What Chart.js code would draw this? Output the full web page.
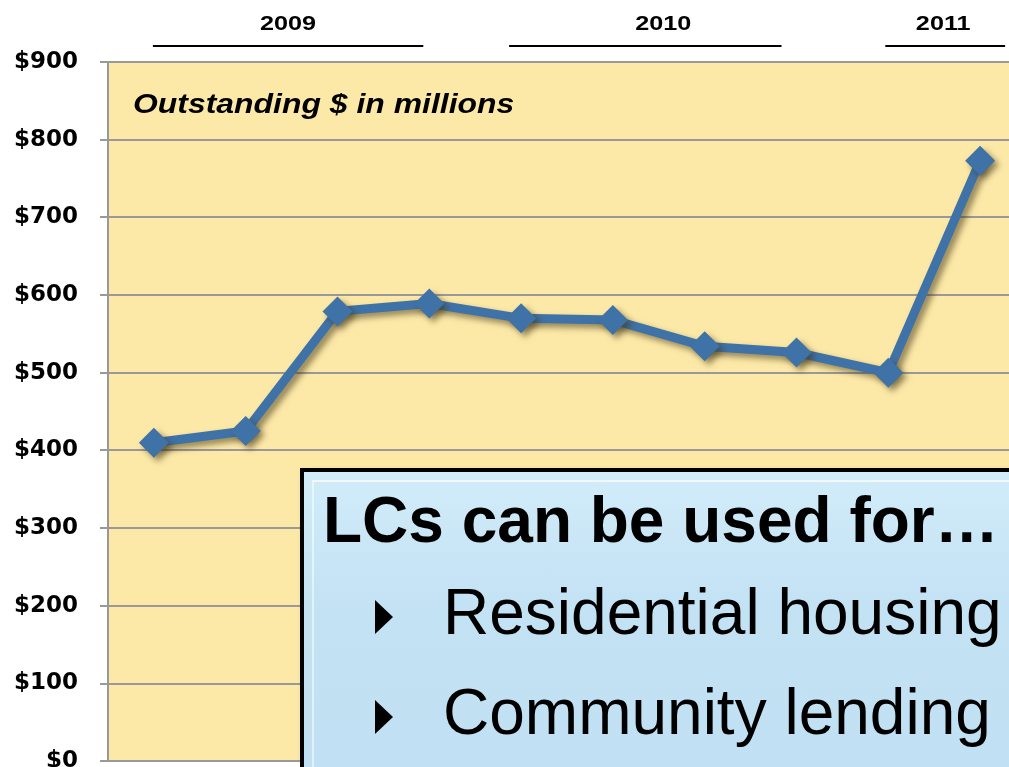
<!DOCTYPE html>
<html>
<head>
<meta charset="utf-8">
<script src="https://cdn.jsdelivr.net/npm/chart.js@4.4.1/dist/chart.umd.min.js"></script>
<style>
  html, body { margin: 0; padding: 0; background: #fff; overflow: hidden; }
  #wrap { position: relative; width: 1009px; height: 767px; overflow: hidden; }
  #holder { position: absolute; left: 0; top: 0; width: 1041px; height: 797px; }
  .box {
    position: absolute; left: 300px; top: 468px; width: 760px; height: 340px;
    border: 4px solid #000; box-sizing: border-box;
    background: linear-gradient(#d2ecf9, #c3e2f4 40%, #c0e0f3);
    box-shadow: 4px 4px 6px rgba(0,0,0,0.35);
    font-family: "Liberation Sans", Arial, sans-serif; color: #000;
  }
  .box .inner {
    position: absolute; left: 8px; top: 8px; right: 0; bottom: 0;
    border-left: 2px solid rgba(255,255,255,0.55); border-top: 2px solid rgba(255,255,255,0.7);
  }
  .box h1 { position: absolute; left: 19px; top: 12px; margin: 0; font-size: 64px; line-height: 1.15; font-weight: bold; white-space: nowrap; }
  .box .item { position: absolute; left: 139px; font-size: 64px; line-height: 1.15; white-space: nowrap; }
  .box .item::before {
    content: ""; position: absolute; left: -68px; top: 24px;
    border-left: 18px solid #000; border-top: 17px solid transparent; border-bottom: 17px solid transparent;
  }
</style>
</head>
<body>
<div id="wrap">
  <div id="holder"><canvas id="lcChart"></canvas></div>
  <div class="box">
    <div class="inner"></div>
    <h1>LCs can be used for…</h1>
    <div class="item" style="top:104px">Residential housing</div>
    <div class="item" style="top:204px">Community lending</div>
  </div>
</div>
<script>
const quarters = ['Q1 2009', 'Q2 2009', 'Q3 2009', 'Q4 2009', 'Q1 2010', 'Q2 2010', 'Q3 2010', 'Q4 2010', 'Q1 2011', 'Q2 2011'];
const outstanding = [410, 425, 579, 589, 570, 568, 534, 526, 500, 773];
const yTicks = [0, 100, 200, 300, 400, 500, 600, 700, 800, 900];
const years = ['2009', '2010', '2011'];
const yearStart = [0, 4, 8];
const yearEnd = [3, 7, 9];

// фон области графика
const plotBg = {
    id: 'plotBg',
    beforeDraw(chart) {
        const { ctx, chartArea: a } = chart;
        ctx.save();
        ctx.fillStyle = '#fde9a7';
        ctx.fillRect(a.left, a.top, a.right - a.left, a.bottom - a.top);
        ctx.restore();
    }
};

// тень под линией
const lineShadow = {
    id: 'lineShadow',
    beforeDatasetDraw(chart) {
        const ctx = chart.ctx;
        ctx.save();
        ctx.shadowColor = 'rgba(60,50,20,0.55)';
        ctx.shadowBlur = 6;
        ctx.shadowOffsetX = 4;
        ctx.shadowOffsetY = 4;
    },
    afterDatasetDraw(chart) {
        chart.ctx.restore();
    }
};

// растянутый по ширине текст, как на слайде
function wideText(ctx, text, x, y, sx) {
    ctx.save();
    ctx.translate(x, y);
    ctx.scale(sx, 1);
    ctx.fillText(text, 0, 0);
    ctx.restore();
}

// подписи годов и заголовок
const startAdj = [-1, -12, -3];
const endAdj = [-6, -15, 25];
const textAdj = [0, 18, -2];
const labels = {
    id: 'labels',
    afterDraw(chart) {
        const { ctx, scales: { x } } = chart;
        ctx.save();
        ctx.fillStyle = '#000';
        ctx.strokeStyle = '#000';
        ctx.lineWidth = 2;
        ctx.font = 'bold 21px "Liberation Sans", Arial, sans-serif';
        ctx.textAlign = 'center';
        ctx.textBaseline = 'alphabetic';
        years.forEach((y, i) => {
            const x0 = x.getPixelForValue(yearStart[i]) + startAdj[i];
            const x1 = x.getPixelForValue(yearEnd[i]) + endAdj[i];
            ctx.beginPath();
            ctx.moveTo(x0, 46);
            ctx.lineTo(x1, 46);
            ctx.stroke();
            wideText(ctx, y, (x0 + x1) / 2 + textAdj[i], 30, 1.2);
        });
        ctx.textAlign = 'left';
        ctx.font = 'italic bold 28px "Liberation Sans", Arial, sans-serif';
        wideText(ctx, 'Outstanding $ in millions', 133, 113, 1.14);
        ctx.restore();
    }
};

new Chart(document.getElementById('lcChart'), {
    type: 'line',
    data: {
        labels: quarters,
        datasets: [{
            data: outstanding,
            borderColor: '#3f72a7',
            backgroundColor: '#3f72a7',
            borderWidth: 9,
            tension: 0,
            pointStyle: 'rectRot',
            pointRadius: 15,
            pointBorderWidth: 0,
            pointBackgroundColor: '#3f72a7'
        }]
    },
    options: {
        responsive: true,
        maintainAspectRatio: false,
        animation: false,
        layout: { padding: { top: 62, bottom: 5, left: 0, right: 0 } },
        plugins: { legend: { display: false }, tooltip: { enabled: false } },
        scales: {
            x: {
                offset: true,
                grid: { display: false, drawTicks: false },
                border: { display: true, color: '#999', width: 2 },
                ticks: { display: false }
            },
            y: {
                min: 0,
                max: 900,
                afterBuildTicks(s) { s.ticks = yTicks.map(v => ({ value: v })); },
                grid: { color: '#999', lineWidth: 2, tickLength: 8 },
                border: { display: true, color: '#999', width: 2 },
                afterFit(s) { s.width = 108; },
                ticks: {
                    color: '#000',
                    padding: 22,
                    font: { family: '"DejaVu Sans", sans-serif', size: 23, weight: 'bold' },
                    callback: v => '$' + v
                }
            }
        }
    },
    plugins: [plotBg, lineShadow, labels]
});
</script>
</body>
</html>
